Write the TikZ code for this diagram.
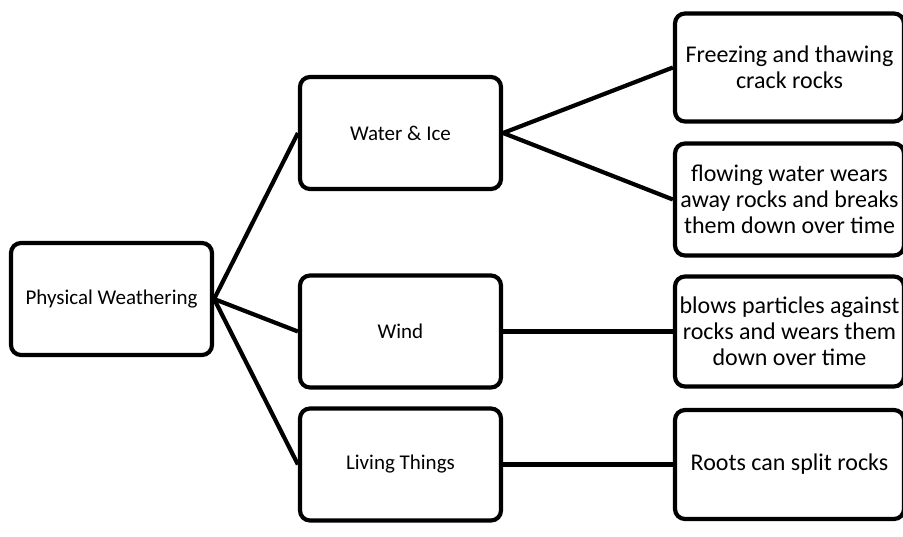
\documentclass[tikz,border=0pt]{standalone}
\usepackage{fontspec}
\setmainfont{Carlito}

\begin{document}
\begin{tikzpicture}[x=1pt,y=-1pt,
  box/.style={draw,line width=4.2pt,rounded corners=10pt,minimum width=201pt,minimum height=112pt,align=center,inner sep=0pt,font=\fontsize{21}{26}\selectfont},
  leaf/.style={box,minimum width=229pt,minimum height=110pt,font=\fontsize{24}{26}\selectfont},
  link/.style={line width=4.2pt}]
\useasboundingbox (0,0) rectangle (903,536);
\node[box] (pw) at (111.5,299) {Physical Weathering};
\node[box] (water) at (400.5,133) {Water \& Ice}; \node[box] (wind) at (400.5,331.5) {Wind}; \node[box] (living) at (400.5,464.5) {Living Things};
\node[leaf,minimum height=108pt] (freeze) at (789.5,67.5) {Freezing and thawing\\crack rocks};
\node[leaf,minimum height=112pt] (flow) at (789.5,199.5) {flowing water wears\\away rocks and breaks\\them down over time};
\node[leaf] (blows) at (789.5,331.5) {blows particles against\\rocks and wears them\\down over time};
\node[leaf,minimum height=109pt] (roots) at (789.5,464.5) {Roots can split rocks};
\draw[link] (pw.east) -- (water.west); \draw[link] (pw.east) -- (wind.west); \draw[link] (pw.east) -- (living.west);
\draw[link] (water.east) -- (freeze.west); \draw[link] (water.east) -- (flow.west);
\draw[link] (wind.east) -- (blows.west); \draw[link] (living.east) -- (roots.west);
\end{tikzpicture}
\end{document}
